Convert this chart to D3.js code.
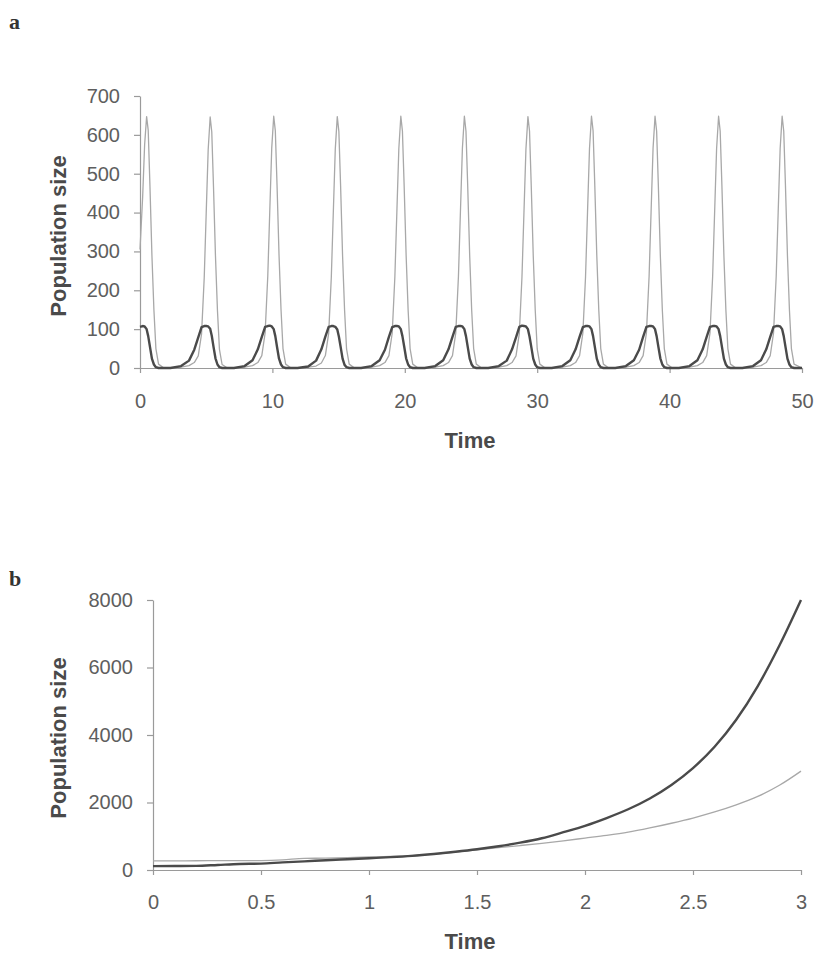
<!DOCTYPE html>
<html>
<head>
<meta charset="utf-8">
<script src="https://cdn.jsdelivr.net/npm/d3@7"></script>
<style>
  html, body { margin: 0; padding: 0; background: #ffffff; }
  svg { display: block; }
</style>
</head>
<body>
<script>
// ---------------- Panel a data ----------------
const timeA = [
  0, 0.2, 0.35, 0.5, 0.62, 0.75, 0.9, 1.05, 1.2, 1.4, 1.8,
  2.3, 3.1, 3.7, 4.1, 4.4, 4.65, 4.85, 5.0, 5.15, 5.3, 5.42, 5.55, 5.7, 5.85, 6.0, 6.2, 6.6,
  7.1, 7.9, 8.5, 8.9, 9.2, 9.45, 9.65, 9.8, 9.95, 10.1, 10.22, 10.35, 10.5, 10.65, 10.8, 11.0, 11.4,
  11.9, 12.7, 13.3, 13.7, 14.0, 14.25, 14.45, 14.6, 14.75, 14.9, 15.02, 15.15, 15.3, 15.45, 15.6, 15.8, 16.2,
  16.7, 17.5, 18.1, 18.5, 18.8, 19.05, 19.25, 19.4, 19.55, 19.7, 19.82, 19.95, 20.1, 20.25, 20.4, 20.6, 21.0,
  21.5, 22.3, 22.9, 23.3, 23.6, 23.85, 24.05, 24.2, 24.35, 24.5, 24.62, 24.75, 24.9, 25.05, 25.2, 25.4, 25.8,
  26.3, 27.1, 27.7, 28.1, 28.4, 28.65, 28.85, 29.0, 29.15, 29.3, 29.42, 29.55, 29.7, 29.85, 30.0, 30.2, 30.6,
  31.1, 31.9, 32.5, 32.9, 33.2, 33.45, 33.65, 33.8, 33.95, 34.1, 34.22, 34.35, 34.5, 34.65, 34.8, 35.0, 35.4,
  35.9, 36.7, 37.3, 37.7, 38.0, 38.25, 38.45, 38.6, 38.75, 38.9, 39.02, 39.15, 39.3, 39.45, 39.6, 39.8, 40.2,
  40.7, 41.5, 42.1, 42.5, 42.8, 43.05, 43.25, 43.4, 43.55, 43.7, 43.82, 43.95, 44.1, 44.25, 44.4, 44.6, 45.0,
  45.5, 46.3, 46.9, 47.3, 47.6, 47.85, 48.05, 48.2, 48.35, 48.5, 48.62, 48.75, 48.9, 49.05, 49.2, 49.4, 50.0
];
const lightA = [
  305, 440, 575, 647, 612, 470, 290, 150, 50, 10, 0,
  0, 2, 6, 14, 31, 88, 232, 398, 562, 646, 608, 468, 288, 148, 48, 9, 0,
  0, 2, 6, 14, 32, 90, 236, 402, 566, 648, 611, 471, 291, 151, 50, 10, 0,
  0, 2, 5, 13, 32, 89, 234, 400, 564, 647, 609, 470, 289, 150, 49, 10, 0,
  0, 2, 6, 14, 32, 90, 235, 401, 565, 648, 610, 470, 290, 150, 50, 10, 0,
  0, 2, 6, 14, 32, 90, 235, 400, 565, 648, 610, 470, 290, 150, 50, 10, 0,
  0, 2, 6, 14, 31, 89, 235, 401, 564, 647, 610, 469, 290, 150, 49, 10, 0,
  0, 2, 6, 14, 32, 90, 234, 400, 565, 648, 611, 470, 290, 150, 50, 10, 0,
  0, 2, 6, 14, 32, 90, 235, 400, 565, 648, 610, 470, 290, 150, 50, 10, 0,
  0, 2, 6, 14, 32, 90, 235, 400, 565, 648, 610, 470, 290, 150, 50, 10, 0,
  0, 2, 6, 14, 32, 90, 235, 400, 565, 648, 610, 470, 290, 150, 50, 10, 0
];
const darkA = [
  106, 108, 107, 100, 82, 55, 24, 9, 2, 0, 0,
  0, 5, 19, 47, 79, 105, 108, 108, 107, 101, 83, 55, 25, 9, 2, 0, 0,
  0, 5, 20, 48, 80, 106, 108, 109, 107, 100, 82, 54, 24, 9, 2, 0, 0,
  0, 4, 19, 48, 81, 106, 108, 108, 106, 99, 81, 55, 24, 8, 2, 0, 0,
  0, 5, 20, 47, 80, 105, 108, 108, 107, 100, 82, 56, 25, 9, 2, 0, 0,
  0, 5, 20, 48, 80, 106, 108, 108, 107, 100, 82, 55, 24, 9, 2, 0, 0,
  0, 5, 19, 48, 79, 106, 109, 108, 107, 100, 81, 55, 24, 9, 2, 0, 0,
  0, 5, 20, 48, 80, 105, 108, 108, 107, 100, 82, 55, 24, 9, 2, 0, 0,
  0, 5, 20, 47, 80, 106, 108, 108, 107, 100, 82, 55, 25, 9, 2, 0, 0,
  0, 5, 20, 48, 80, 106, 108, 108, 107, 100, 82, 55, 24, 9, 2, 0, 0,
  0, 5, 20, 48, 80, 106, 108, 108, 107, 100, 82, 55, 24, 9, 2, 0, 0
];
const xTicksA = [0, 10, 20, 30, 40, 50];
const yTicksA = [0, 100, 200, 300, 400, 500, 600, 700];

// ---------------- Panel b data ----------------
const timeB = [0, 0.1, 0.2, 0.3, 0.4, 0.5, 0.6, 0.7, 0.8, 0.9, 1.0, 1.1, 1.2, 1.3, 1.4, 1.5,
               1.6, 1.7, 1.8, 1.9, 2.0, 2.1, 2.2, 2.3, 2.4, 2.5, 2.6, 2.7, 2.8, 2.9, 3.0];
const darkB = [115, 118, 122, 150, 178, 190, 225, 255, 290, 320, 350, 380, 420, 475, 540, 615,
               705, 810, 940, 1120, 1310, 1540, 1800, 2120, 2520, 3020, 3650, 4450, 5450, 6650, 8000];
const lightB = [270, 272, 274, 276, 278, 280, 300, 345, 350, 365, 385, 405, 430, 470, 530, 600,
                665, 725, 790, 865, 945, 1025, 1120, 1245, 1385, 1540, 1720, 1930, 2180, 2510, 2930];
const xTicksB = [0, 0.5, 1, 1.5, 2, 2.5, 3];
const yTicksB = [0, 2000, 4000, 6000, 8000];

// ---------------- Drawing ----------------
const W = 816, H = 954;
const svg = d3.select("body").append("svg")
  .attr("width", W).attr("height", H)
  .style("background", "#ffffff");

const sans = "'Liberation Sans', Arial, Helvetica, sans-serif";
const serif = "'Liberation Serif', 'Times New Roman', serif";
const axisColor = "#9a9a9a";
const tickTextColor = "#5e5e5e";
const titleColor = "#4a4a4a";

function styleAxis(g) {
  g.select(".domain").attr("stroke", axisColor).attr("stroke-width", 1.2);
  g.selectAll(".tick line").attr("stroke", axisColor).attr("stroke-width", 1.2);
  g.selectAll(".tick text")
    .attr("fill", tickTextColor)
    .style("font-family", sans)
    .style("font-size", "20px");
}

function drawPanel(opt) {
  const x = d3.scaleLinear().domain(opt.xDomain).range(opt.xRange);
  const y = d3.scaleLinear().domain(opt.yDomain).range(opt.yRange);
  const g = svg.append("g");

  const gx = g.append("g")
    .attr("transform", `translate(0,${opt.yRange[0]})`)
    .call(d3.axisBottom(x).tickValues(opt.xTicks).tickSize(5).tickSizeOuter(0)
      .tickPadding(opt.xPad).tickFormat(d3.format("~g")));
  styleAxis(gx);

  const gy = g.append("g")
    .attr("transform", `translate(${opt.xRange[0]},0)`)
    .call(d3.axisLeft(y).tickValues(opt.yTicks).tickSize(6).tickSizeOuter(0)
      .tickPadding(14).tickFormat(d3.format("d")));
  styleAxis(gy);

  const line = (vals) => d3.line()
    .curve(opt.curve)
    .x((d, i) => x(opt.time[i]))
    .y(d => y(d))(vals);

  g.append("path").attr("d", line(opt.light))
    .attr("fill", "none").attr("stroke", "#a8a8a8").attr("stroke-width", 1.3)
    .attr("stroke-linejoin", "round");
  g.append("path").attr("d", line(opt.dark))
    .attr("fill", "none").attr("stroke", "#4a4a4a").attr("stroke-width", 2.4)
    .attr("stroke-linejoin", "round");

  // axis titles
  g.append("text")
    .attr("x", opt.xTitle[0]).attr("y", opt.xTitle[1])
    .attr("text-anchor", "middle")
    .attr("fill", titleColor)
    .style("font-family", sans).style("font-weight", "bold").style("font-size", "22px")
    .text("Time");
  g.append("text")
    .attr("transform", `translate(${opt.yTitle[0]},${opt.yTitle[1]}) rotate(-90)`)
    .attr("text-anchor", "middle")
    .attr("dominant-baseline", "central")
    .attr("fill", titleColor)
    .style("font-family", sans).style("font-weight", "bold").style("font-size", "22px")
    .text("Population size");

  // panel letter
  g.append("text")
    .attr("x", opt.letterPos[0]).attr("y", opt.letterPos[1])
    .attr("fill", "#333")
    .style("font-family", serif).style("font-weight", "bold").style("font-size", "22px")
    .text(opt.letter);
}

drawPanel({
  xDomain: [0, 50], xRange: [140, 802],
  yDomain: [0, 700], yRange: [368, 96],
  xTicks: xTicksA, yTicks: yTicksA, xPad: 21,
  time: timeA, light: lightA, dark: darkA, curve: d3.curveLinear,
  xTitle: [470, 448], yTitle: [58, 236],
  letter: "a", letterPos: [9, 29]
});

drawPanel({
  xDomain: [0, 3], xRange: [153, 801],
  yDomain: [0, 8000], yRange: [870, 600],
  xTicks: xTicksB, yTicks: yTicksB, xPad: 20,
  time: timeB, light: lightB, dark: darkB, curve: d3.curveMonotoneX,
  xTitle: [470, 949], yTitle: [58, 738],
  letter: "b", letterPos: [9, 586]
});
</script>
</body>
</html>
